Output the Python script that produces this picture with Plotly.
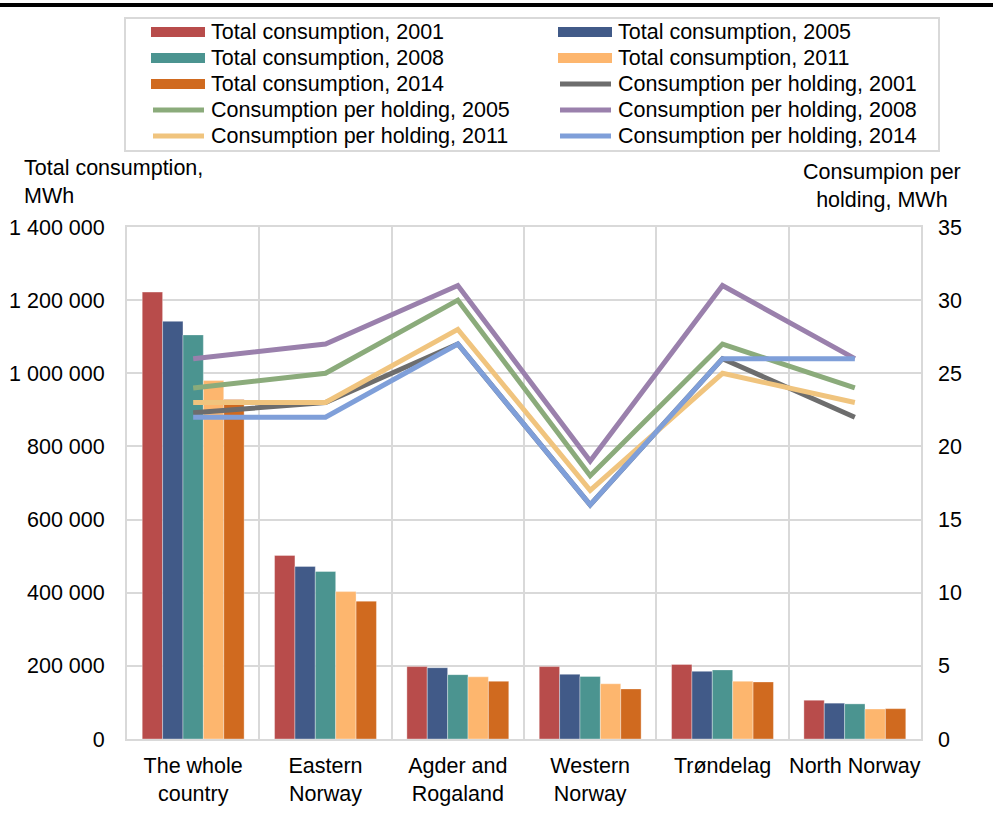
import plotly.graph_objects as go

categories = ["The whole<br>country", "Eastern<br>Norway", "Agder and<br>Rogaland",
              "Western<br>Norway", "Trøndelag", "North Norway"]

total_2001 = [1222000, 502000, 198000, 198000, 204000, 106000]
total_2005 = [1142000, 472000, 195000, 177000, 185000, 98000]
total_2008 = [1105000, 458000, 176000, 171000, 189000, 96000]
total_2011 = [980000, 403000, 170000, 151000, 158000, 82000]
total_2014 = [928000, 377000, 158000, 137000, 156000, 83000]

holding_2001 = [22.3, 23, 27, 16, 26, 22]
holding_2005 = [24, 25, 30, 18, 27, 24]
holding_2008 = [26, 27, 31, 19, 31, 26]
holding_2011 = [23, 23, 28, 17, 25, 23]
holding_2014 = [22, 22, 27, 16, 26, 26]

bar_names = ["Total consumption, 2001", "Total consumption, 2005", "Total consumption, 2008",
             "Total consumption, 2011", "Total consumption, 2014"]
bar_values = [total_2001, total_2005, total_2008, total_2011, total_2014]
bar_colors = ["#b84c4b", "#415a88", "#4b9490", "#fdb66e", "#d06a1f"]

line_names = ["Consumption per holding, 2001", "Consumption per holding, 2005",
              "Consumption per holding, 2008", "Consumption per holding, 2011",
              "Consumption per holding, 2014"]
line_values = [holding_2001, holding_2005, holding_2008, holding_2011, holding_2014]
line_colors = ["#6d6d6d", "#8bab7b", "#9a80ac", "#f0c47e", "#7f9fd9"]

W, H = 993, 837
L, R, T, B = 127, 72, 227, 98
PW, PH = W - L - R, H - T - B

fig = go.Figure()
for name, vals, col in zip(bar_names, bar_values, bar_colors):
    fig.add_trace(go.Bar(x=categories, y=vals, name=name, marker_color=col,
                         marker_line=dict(color="rgba(255,255,255,0.35)", width=1),
                         showlegend=False, yaxis="y"))
for name, vals, col in zip(line_names, line_values, line_colors):
    fig.add_trace(go.Scatter(x=categories, y=vals, name=name, mode="lines",
                             line=dict(color=col, width=5), showlegend=False, yaxis="y2"))

font = dict(family="Liberation Sans, Arial, sans-serif", size=21.5, color="#000000")
grid = "#d9d9d9"

fig.update_layout(
    width=W, height=H,
    margin=dict(l=L, r=R, t=T, b=B, autoexpand=False),
    paper_bgcolor="white", plot_bgcolor="white",
    font=font,
    separators=". ",
    barmode="group", bargap=0.23, bargroupgap=0,
    showlegend=False,
    xaxis=dict(type="category", tickson="boundaries", showgrid=True, gridcolor=grid, gridwidth=2,
               showline=True, linecolor=grid, linewidth=2, mirror=True, ticks="",
               tickangle=0, ticklabelstandoff=6, tickfont=font),
    yaxis=dict(range=[0, 1400000], dtick=200000, tickformat=",.0f", showgrid=True,
               gridcolor=grid, gridwidth=2, showline=True, linecolor=grid, linewidth=2,
               mirror=True, zeroline=False, ticks="", ticklabelstandoff=16, tickfont=font),
    yaxis2=dict(range=[0, 35], dtick=5, overlaying="y", side="right", showgrid=False,
                zeroline=False, showline=False, ticks="", ticklabelstandoff=16, tickfont=font),
)

def px_x(x):
    return (x - L) / PW

def px_y(y):
    return (T + PH - y) / PH

shapes = []
annotations = []
# top black rule
shapes.append(dict(type="line", xref="paper", yref="paper", x0=px_x(0), x1=px_x(W),
                   y0=px_y(5), y1=px_y(5), line=dict(color="black", width=4)))
# legend box
shapes.append(dict(type="rect", xref="paper", yref="paper", x0=px_x(125), x1=px_x(939),
                   y0=px_y(18), y1=px_y(151), line=dict(color=grid, width=2),
                   fillcolor="rgba(0,0,0,0)"))

leg_names = []
leg_kinds = []
leg_cols = []
for n, c in zip(bar_names, bar_colors):
    leg_names.append(n); leg_kinds.append("bar"); leg_cols.append(c)
for n, c in zip(line_names, line_colors):
    leg_names.append(n); leg_kinds.append("line"); leg_cols.append(c)

for i, (n, k, c) in enumerate(zip(leg_names, leg_kinds, leg_cols)):
    row, col = divmod(i, 2)
    cy = 32 + 26 * row
    sx0, sx1, tx = (151, 205, 209) if col == 0 else (558, 612, 616)
    if k == "bar":
        shapes.append(dict(type="rect", xref="paper", yref="paper", x0=px_x(sx0), x1=px_x(sx1),
                           y0=px_y(cy - 5), y1=px_y(cy + 5), line=dict(width=0), fillcolor=c))
    else:
        shapes.append(dict(type="line", xref="paper", yref="paper", x0=px_x(sx0 + 2), x1=px_x(sx1 - 1),
                           y0=px_y(cy), y1=px_y(cy), line=dict(color=c, width=5)))
    annotations.append(dict(text=n, xref="paper", yref="paper", x=px_x(tx), y=px_y(cy),
                            xanchor="left", yanchor="middle", showarrow=False, font=font))

annotations.append(dict(text="Total consumption,<br>MWh", xref="paper", yref="paper",
                        x=px_x(22), y=px_y(182), xanchor="left", yanchor="middle",
                        align="left", showarrow=False, font=font))
annotations.append(dict(text="Consumpion per<br>holding, MWh", xref="paper", yref="paper",
                        x=px_x(882), y=px_y(186), xanchor="center", yanchor="middle",
                        align="center", showarrow=False, font=font))

fig.update_layout(shapes=shapes, annotations=annotations)
fig.write_html("out.html", config={"displayModeBar": False},
               post_script="document.body.style.margin='0';")
